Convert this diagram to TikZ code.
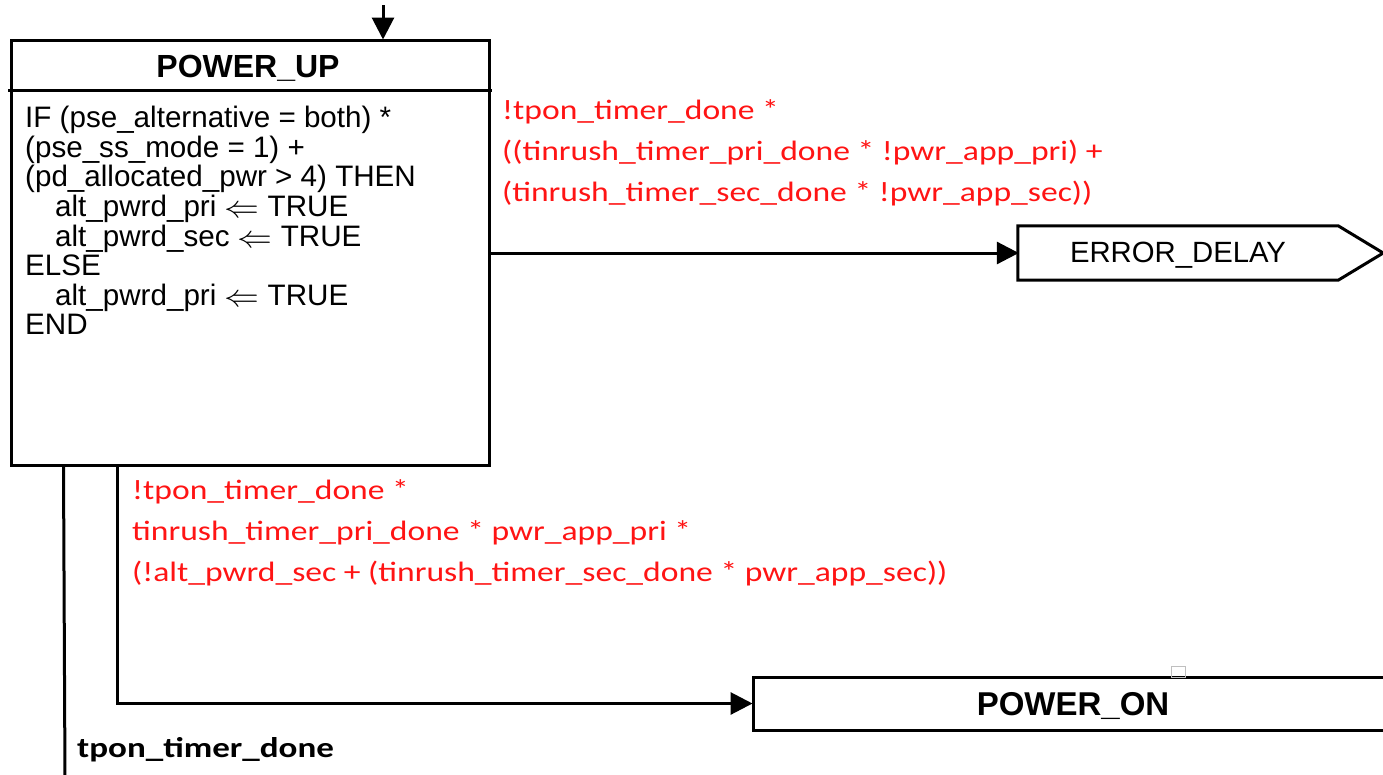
\documentclass[tikz,border=0pt]{standalone}
\usepackage{fontspec}
\usepackage{graphicx}
\setmainfont{Liberation Sans}
\newfontfamily\calib[FakeStretch=1.2]{Carlito}
\newfontfamily\calibwide[FakeStretch=1.23]{Carlito}
\newcommand{\larr}{\raisebox{-1pt}{\scalebox{1.4}[1.25]{$\Leftarrow$}}}
\usetikzlibrary{arrows.meta}
\definecolor{guardred}{RGB}{255,20,20}
\tikzset{
  wire/.style={line width=3pt, line cap=rect},
  arrowwire/.style={wire, -{Triangle[width=22pt,length=22pt]}, shorten >=-1pt},
  statebox/.style={draw, line width=3pt, inner sep=0pt},
  guard/.style={text=guardred, font=\calib\fontsize{28}{41}\selectfont, align=left, inner sep=0pt},
}
\begin{document}
\begin{tikzpicture}[x=1pt,y=-1pt]
\useasboundingbox (0,0) rectangle (1383,774);
\clip (0,0) rectangle (1383,774);
\fill[white] (0,0) rectangle (1383,774);

% POWER_UP state
\node[statebox, minimum width=478pt, minimum height=425pt] (pu) at (250,252.5) {};
\draw[wire] ([yshift=-52pt]pu.north west) -- ([yshift=-52pt]pu.north east);
\node[anchor=base, font=\bfseries\fontsize{32}{32}\selectfont, inner sep=0pt] (put) at (248,77) {POWER\_UP};
\node[anchor=north west, align=left, inner sep=0pt, font=\fontsize{29.6}{29.6}\selectfont] (pub) at (25,106)
 {IF (pse\_alternative = both) *\\
  (pse\_ss\_mode = 1) +\\
  (pd\_allocated\_pwr > 4) THEN\\
  \hspace*{30pt}alt\_pwrd\_pri \larr{} TRUE\\
  \hspace*{30pt}alt\_pwrd\_sec \larr{} TRUE\\
  ELSE\\
  \hspace*{30pt}alt\_pwrd\_pri \larr{} TRUE\\
  END};

% entry arrow
\coordinate (entry) at (383,6);
\draw[arrowwire] (entry) -- (entry |- pu.north);

% ERROR_DELAY
\node[minimum width=320pt, minimum height=54pt, inner sep=0pt] (ed) at (1178,253) {};
\node[anchor=base, font=\fontsize{29.3}{30}\selectfont, inner sep=0pt] (edt) at (1178,262) {ERROR\_DELAY};
\draw[line width=3pt, line join=miter] (ed.north west) -- (ed.north east) -- ([xshift=45pt]ed.east) -- (ed.south east) -- (ed.south west) -- cycle;
\draw[arrowwire] (pu.east |- ed.west) -- (ed.west);
\node[guard, anchor=north west] (g1) at (502,99)
 {!tpon\_timer\_done *\\
  ((tinrush\_timer\_pri\_done * !pwr\_app\_pri) +\\
  (tinrush\_timer\_sec\_done * !pwr\_app\_sec))};

% POWER_ON
\node[statebox, minimum width=638pt, minimum height=53pt] (po) at (1072,703.5) {};
\node[anchor=base, font=\bfseries\fontsize{33}{33}\selectfont, inner sep=0pt] (pot) at (1073,715) {POWER\_ON};
\draw[draw=black!25, line width=1pt] (1171,677) rectangle (1185,666);

\draw[arrowwire] ([xshift=108pt]pu.south west) |- (po.west);
\node[guard, anchor=north west] (g2) at (132,479)
 {!tpon\_timer\_done *\\
  tinrush\_timer\_pri\_done * pwr\_app\_pri *\\
  (!alt\_pwrd\_sec + (tinrush\_timer\_sec\_done * pwr\_app\_sec))};

% tpon_timer_done exit
\coordinate (tpexit) at (65,780);
\draw[wire] ([xshift=54pt]pu.south west) -- (tpexit);
\node[anchor=base west, font=\calibwide\bfseries\fontsize{28.5}{28.5}\selectfont, inner sep=0pt] (g3) at (77,757) {tpon\_timer\_done};
\end{tikzpicture}
\end{document}
